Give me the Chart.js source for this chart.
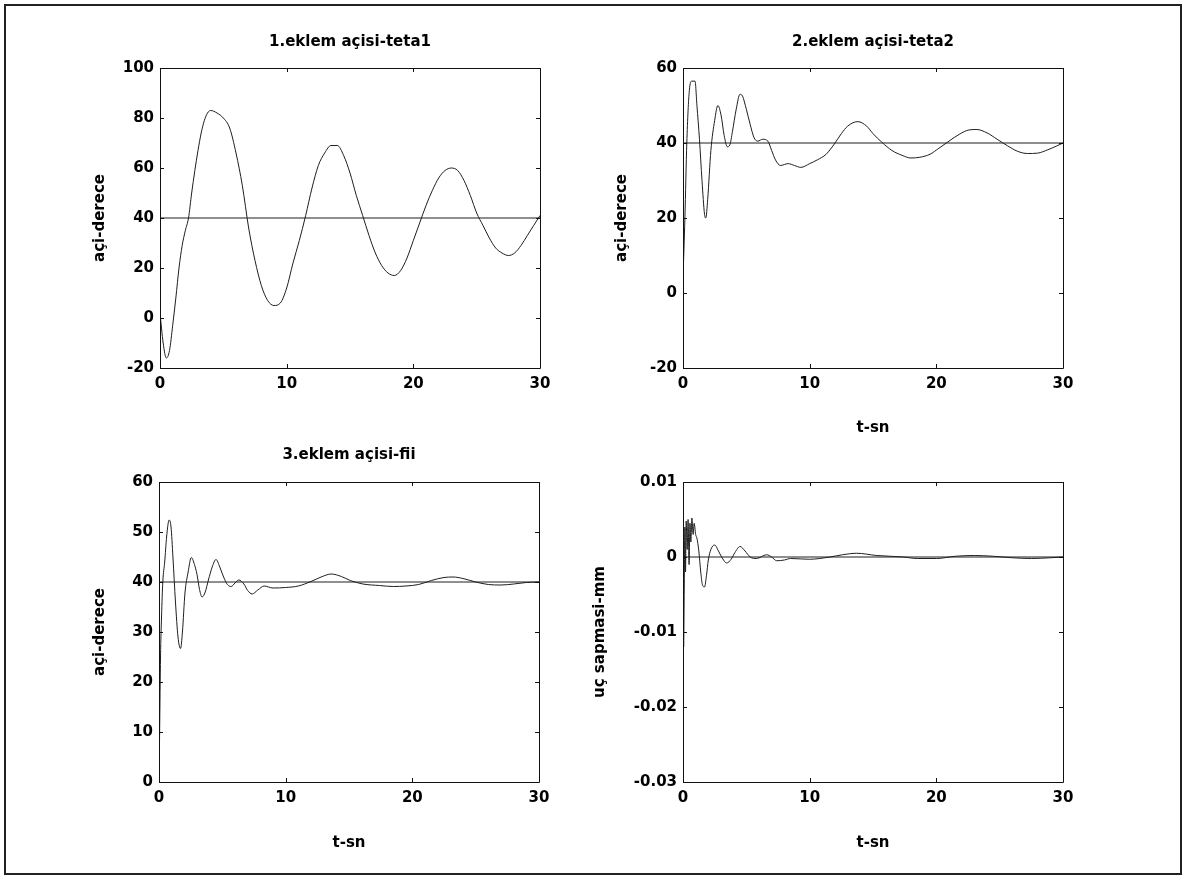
<!DOCTYPE html>
<html>
<head>
<meta charset="utf-8">
<script src="https://cdn.jsdelivr.net/npm/chart.js@4.4.1/dist/chart.umd.min.js"></script>
<style>
  html, body { margin: 0; padding: 0; background: #fff; }
  body { width: 1185px; height: 881px; position: relative; overflow: hidden; }
  #frame { position: absolute; left: 4px; top: 4px; width: 1174px; height: 867px; border: 2px solid #222; }
  canvas { position: absolute; }
</style>
</head>
<body>
<div id="frame"></div>
<canvas id="c1"></canvas>
<canvas id="c2"></canvas>
<canvas id="c3"></canvas>
<canvas id="c4"></canvas>
<script>
// time axis (s) and joint angles
const t1 = [0,0.25,0.5,0.75,1,1.25,1.5,1.75,2,2.25,2.5,2.75,3,3.25,3.5,3.75,4,4.5,5,5.5,6,6.5,7,7.5,8,8.5,9,9.5,10,10.5,11,11.5,12,12.5,13,13.5,14,14.5,15,15.5,16,16.5,17,17.5,18,18.5,19,19.5,20,20.5,21,21.5,22,22.5,23,23.5,24,24.5,25,25.5,26,26.5,27,27.5,28,28.5,29,29.5,30];
const teta1 = [2,-10,-16,-13,-3,8,20,29,35,40,50,59,67,74,79,82,83,82,80,76,66,53,36,23,13,7,5,6,12,22,31,41,52,61,66,69,69,65,58,49,41,33,26,21,18,17,19,24,31,38,45,51,56,59,60,59,55,49,42,37,32,28,26,25,26,29,33,37,41];

const t2 = [0,0.15,0.3,0.5,0.7,0.95,1.1,1.3,1.5,1.7,1.8,1.95,2.2,2.5,2.75,3,3.25,3.5,3.7,3.9,4.2,4.5,4.7,5,5.3,5.6,5.9,6.3,6.7,7,7.3,7.7,8.3,8.8,9.3,10,10.6,11.3,12,12.5,13,13.8,14.5,15,15.7,16.5,17.3,18,18.7,19.5,20.2,21,21.8,22.6,23.2,24,24.8,25.6,26.4,27.2,28,28.8,29.5,30];
const teta2 = [4,20,40,54,56.5,56.5,50,41,30,21,20,25,38,46,50,47.5,42,39,39.5,43,49,53,52.5,49,45,41.5,40.5,41,40.5,38,35.5,34,34.5,34,33.5,34.5,35.5,37,40,42.5,44.5,45.7,44.5,42.5,40.2,38,36.7,36,36.2,37,38.6,40.5,42.3,43.5,43.6,42.7,41,39.3,37.8,37.2,37.3,38.2,39.2,40];

const t3 = [0,0.05,0.12,0.2,0.3,0.45,0.6,0.8,0.95,1.1,1.3,1.5,1.7,1.85,2.05,2.3,2.55,2.8,3,3.2,3.4,3.65,3.9,4.2,4.5,4.8,5.1,5.4,5.7,6,6.3,6.7,7,7.35,7.8,8.3,9,10,11,12,12.8,13.6,14.4,15.1,16.1,17.4,18.5,19.5,20.5,21.5,22.5,23.2,24,25,26,27,28,29,30];
const fii = [0,10,25,33,40,44,49,52.4,51,45,36,29,26.7,30,37.8,42,44.9,43.5,41.5,38.5,37,38,40.4,43,44.5,43,41,39.5,39.1,39.8,40.4,39.6,38.3,37.6,38.4,39.2,38.8,38.9,39.2,40.1,41,41.6,41.1,40.3,39.6,39.3,39.1,39.2,39.5,40.3,40.9,41,40.7,40,39.5,39.4,39.6,39.9,40];

const t4 = [0,0.05,0.1,0.15,0.2,0.25,0.33,0.4,0.48,0.55,0.62,0.7,0.8,0.88,1,1.1,1.25,1.4,1.55,1.7,1.85,2,2.2,2.5,2.8,3.05,3.45,3.8,4.1,4.5,4.9,5.3,5.8,6.6,7,7.4,8,8.5,10,11.6,12.6,13.7,15.3,17.4,18.5,20,21.5,23,24.5,26,27.5,29,30];
const sapma = [0,-0.012,-0.004,0.004,-0.002,0.0048,0.001,0.005,-0.001,0.0045,0.002,0.0052,0.003,0.0045,0.003,0.0025,0.0008,-0.002,-0.0038,-0.004,-0.0025,-0.0004,0.001,0.0016,0.0008,0,-0.0008,-0.0003,0.0006,0.0014,0.0008,0,-0.0002,0.0003,0,-0.0005,-0.0004,-0.0002,-0.0003,0,0.0003,0.0005,0.0002,0,-0.0002,-0.0002,0.0001,0.0002,0.0001,-0.0001,-0.0002,-0.0001,0];

// reference (desired) values
const refT = [0, 30];
const ref1 = [40, 40];
const ref2 = [40, 40];
const ref3 = [40, 40];
const ref4 = [0, 0];

const xTicks = [0, 10, 20, 30];
const yTicks1 = [-20, 0, 20, 40, 60, 80, 100];
const yTicks2 = [-20, 0, 20, 40, 60];
const yTicks3 = [0, 10, 20, 30, 40, 50, 60];
const yTicks4 = [-0.03, -0.02, -0.01, 0, 0.01];

const FONT = { family: "'DejaVu Sans', sans-serif", size: 15, weight: 'bold' };
const INK = '#1e1e1e';

Chart.defaults.color = '#000';

// matlab style box with inward ticks on all four sides
const boxTicks = {
    id: 'boxTicks',
    afterDatasetsDraw(chart) {
        const { ctx, chartArea: a, scales: { x, y } } = chart;
        ctx.save();
        ctx.strokeStyle = '#111';
        ctx.lineWidth = 1;
        ctx.beginPath();
        ctx.rect(a.left + 0.5, a.top + 0.5, a.right - a.left, a.bottom - a.top);
        x.ticks.forEach(tk => {
            const px = Math.round(x.getPixelForValue(tk.value)) + 0.5;
            ctx.moveTo(px, a.bottom); ctx.lineTo(px, a.bottom - 4);
            ctx.moveTo(px, a.top); ctx.lineTo(px, a.top + 4);
        });
        y.ticks.forEach(tk => {
            const py = Math.round(y.getPixelForValue(tk.value)) + 0.5;
            ctx.moveTo(a.left, py); ctx.lineTo(a.left + 4, py);
            ctx.moveTo(a.right, py); ctx.lineTo(a.right - 4, py);
        });
        ctx.stroke();
        ctx.restore();
    }
};

function xy(ts, vs) {
    return ts.map((t, i) => ({ x: t, y: vs[i] }));
}

// L,T = page position of plot area top-left; plot area is 380 x 300
function makeChart(id, o) {
    const cv = document.getElementById(id);
    const W = 600, H = 455, ML = 110, MT = 60, MB = 95;
    const left = o.L - ML, top = o.T - MT;
    cv.width = W; cv.height = H;
    cv.style.left = left + 'px';
    cv.style.top = top + 'px';

    const titlePadTop = o.title ? (o.titleY - top - 9) : 0;

    new Chart(cv, {
        type: 'line',
        data: {
            datasets: [
                { data: xy(o.t, o.v), borderColor: INK, borderWidth: 1, pointRadius: 0, cubicInterpolationMode: 'monotone', fill: false },
                { data: xy(refT, o.ref), borderColor: INK, borderWidth: 1, pointRadius: 0, fill: false }
            ]
        },
        options: {
            responsive: false,
            animation: false,
            events: [],
            layout: { padding: { left: 0, right: W - ML - 380, top: o.title ? 0 : MT, bottom: 0 } },
            plugins: {
                legend: { display: false },
                tooltip: { enabled: false },
                title: {
                    display: !!o.title,
                    text: o.title,
                    font: FONT,
                    color: '#000',
                    fullSize: false,
                    padding: { top: titlePadTop, bottom: MT - 18 - titlePadTop }
                }
            },
            scales: {
                x: {
                    type: 'linear',
                    min: 0, max: 30,
                    afterBuildTicks: s => { s.ticks = xTicks.map(v => ({ value: v })); },
                    afterFit: s => { s.height = MB; },
                    grid: { display: false, drawTicks: false },
                    border: { display: false },
                    ticks: { font: FONT, padding: 7, maxRotation: 0, callback: v => String(v) },
                    title: {
                        display: !!o.xTitle,
                        text: o.xTitle,
                        font: FONT,
                        color: '#000',
                        padding: { top: 0, bottom: o.xTitle ? (top + H - o.xTitleY - 9) : 0 }
                    }
                },
                y: {
                    min: o.yTicks[0], max: o.yTicks[o.yTicks.length - 1],
                    afterBuildTicks: s => { s.ticks = o.yTicks.map(v => ({ value: v })); },
                    afterFit: s => { s.width = ML; },
                    grid: { display: false, drawTicks: false },
                    border: { display: false },
                    ticks: { font: FONT, padding: 6, callback: v => String(v) },
                    title: {
                        display: true,
                        text: o.yTitle,
                        font: FONT,
                        color: '#000',
                        padding: { top: o.yTitleX - left - 9, bottom: 0 }
                    }
                }
            }
        },
        plugins: [boxTicks]
    });
}

makeChart('c1', { L: 160, T: 68, t: t1, v: teta1, ref: ref1, yTicks: yTicks1,
    title: '1.eklem açisi-teta1', titleY: 42, yTitle: 'açi-derece', yTitleX: 100 });
makeChart('c2', { L: 683, T: 68, t: t2, v: teta2, ref: ref2, yTicks: yTicks2,
    title: '2.eklem açisi-teta2', titleY: 42, yTitle: 'açi-derece', yTitleX: 622,
    xTitle: 't-sn', xTitleY: 428 });
makeChart('c3', { L: 159, T: 482, t: t3, v: fii, ref: ref3, yTicks: yTicks3,
    title: '3.eklem açisi-fii', titleY: 455, yTitle: 'açi-derece', yTitleX: 100,
    xTitle: 't-sn', xTitleY: 843 });
makeChart('c4', { L: 683, T: 482, t: t4, v: sapma, ref: ref4, yTicks: yTicks4,
    yTitle: 'uç sapmasi-mm', yTitleX: 600, xTitle: 't-sn', xTitleY: 843 });
</script>
</body>
</html>
